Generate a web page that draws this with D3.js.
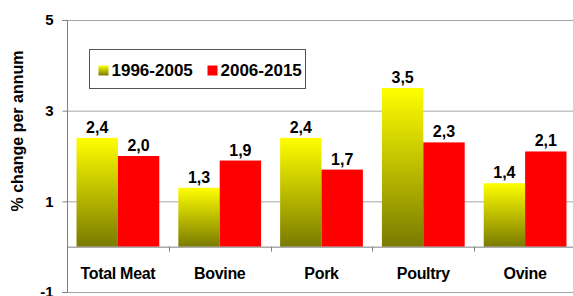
<!DOCTYPE html>
<html>
<head>
<meta charset="utf-8">
<script src="https://cdn.jsdelivr.net/npm/d3@7"></script>
<style>
  html, body { margin: 0; padding: 0; background: #fff; }
  svg { display: block; font-family: Arial, "Liberation Sans", sans-serif; font-weight: bold; }
</style>
</head>
<body>
<div id="chart"></div>
<script>
const categories = ['Total Meat', 'Bovine', 'Pork', 'Poultry', 'Ovine'];
const seriesNames = ['1996-2005', '2006-2015'];
const values1996 = [2.4, 1.3, 2.4, 3.5, 1.4];
const values2006 = [2.0, 1.9, 1.7, 2.3, 2.1];
const yTicks = [-1, 1, 3, 5];

const W = 573;
const H = 296;
const plot = { left: 67, right: 576, top: 20, bottom: 292 };

const svg = d3.select('#chart')
  .append('svg')
  .attr('width', W)
  .attr('height', H);

// gradient for the first series: bright yellow top, olive at the bottom of each bar
const defs = svg.append('defs');
const grad = defs.append('linearGradient')
  .attr('id', 'yellowGrad')
  .attr('x1', 0).attr('y1', 0).attr('x2', 0).attr('y2', 1);
grad.append('stop').attr('offset', '0%').attr('stop-color', '#ffff00');
grad.append('stop').attr('offset', '100%').attr('stop-color', '#7a7a00');

const fills = ['url(#yellowGrad)', '#ff0000'];

const y = d3.scaleLinear().domain([-1, 5]).range([plot.bottom, plot.top]);
const x0 = d3.scaleBand().domain(categories).range([plot.left, plot.right]).padding(0);
const x1 = d3.scaleBand().domain(seriesNames).range([0, x0.bandwidth()])
  .paddingInner(0).paddingOuter(0.23);

// horizontal grid lines
svg.append('g')
  .selectAll('line')
  .data(yTicks)
  .join('line')
  .attr('x1', plot.left).attr('x2', plot.right)
  .attr('y1', (d) => y(d) + 0.5).attr('y2', (d) => y(d) + 0.5)
  .attr('stroke', '#a6a6a6')
  .attr('stroke-width', 1);

// y axis (plain hyphen for the negative label, like the original)
const yAxis = d3.axisLeft(y).tickValues(yTicks).tickFormat((d) => String(d)).tickSize(5).tickPadding(9);
const gy = svg.append('g')
  .attr('transform', `translate(${plot.left + 0.5},0)`)
  .call(yAxis);
gy.select('.domain').attr('stroke', '#808080').attr('d', `M-5,${plot.top + 0.5}H0V${plot.bottom + 0.5}H-5`);
gy.selectAll('.tick line').attr('stroke', '#808080');
gy.selectAll('.tick text')
  .attr('font-size', 15)
  .attr('font-weight', 'bold')
  .attr('font-family', 'Arial, "Liberation Sans", sans-serif')
  .attr('fill', '#000');

svg.append('text')
  .attr('transform', 'translate(23,131) rotate(-90)')
  .attr('text-anchor', 'middle')
  .attr('font-size', 16)
  .text('% change per annum');

// bars
const groups = svg.append('g')
  .selectAll('g')
  .data(categories)
  .join('g')
  .attr('transform', (d) => `translate(${x0(d)},0)`);

const barData = (c, i) => seriesNames.map((s, k) => ({
  series: s,
  k,
  value: k === 0 ? values1996[i] : values2006[i],
}));

groups.selectAll('rect')
  .data(barData)
  .join('rect')
  .attr('x', (d) => x1(d.series))
  .attr('width', x1.bandwidth())
  .attr('y', (d) => y(d.value))
  .attr('height', (d) => y(0) - y(d.value))
  .attr('fill', (d) => fills[d.k]);

groups.selectAll('text')
  .data(barData)
  .join('text')
  .attr('x', (d) => x1(d.series) + x1.bandwidth() / 2)
  .attr('y', (d) => y(d.value) - 5)
  .attr('text-anchor', 'middle')
  .attr('font-size', 16)
  .attr('fill', '#000')
  .text((d) => d3.format('.1f')(d.value).replace('.', ','));

// baseline and category ticks
svg.append('line')
  .attr('x1', plot.left).attr('x2', plot.right)
  .attr('y1', y(0) + 0.5).attr('y2', y(0) + 0.5)
  .attr('stroke', '#808080');

svg.append('g')
  .selectAll('line')
  .data(categories.slice(1))
  .join('line')
  .attr('x1', (d) => Math.round(x0(d)) + 0.5).attr('x2', (d) => Math.round(x0(d)) + 0.5)
  .attr('y1', y(0)).attr('y2', y(0) + 5)
  .attr('stroke', '#808080');

svg.append('g')
  .selectAll('text')
  .data(categories)
  .join('text')
  .attr('x', (d) => x0(d) + x0.bandwidth() / 2)
  .attr('y', y(0) + 32)
  .attr('text-anchor', 'middle')
  .attr('font-size', 16)
  .attr('letter-spacing', -0.3)
  .text((d) => d);

// legend
const legend = svg.append('g').attr('transform', 'translate(89.5,49.5)');
legend.append('rect')
  .attr('width', 216).attr('height', 39)
  .attr('fill', '#fff')
  .attr('stroke', '#555');

const legendX = [9, 118];
const items = legend.selectAll('g.item')
  .data(seriesNames)
  .join('g')
  .attr('class', 'item')
  .attr('transform', (d, i) => `translate(${legendX[i]},0)`);

items.append('rect')
  .attr('y', 16).attr('width', 10).attr('height', 10)
  .attr('fill', (d, i) => fills[i]);

items.append('text')
  .attr('x', 13).attr('y', 26.5)
  .attr('font-size', 17)
  .text((d) => d);
</script>
</body>
</html>
